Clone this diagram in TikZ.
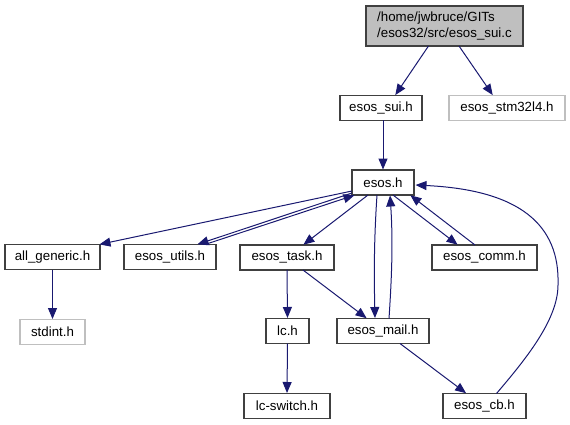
\documentclass[tikz,border=0pt]{standalone}
\usepackage{fontspec}
\setmainfont{Liberation Sans}
\usetikzlibrary{arrows.meta,calc}
\definecolor{edgecol}{RGB}{25,25,112}
\definecolor{boxcol}{RGB}{64,64,64}
\definecolor{greyb}{RGB}{191,191,191}
\begin{document}
\begin{tikzpicture}[x=1pt,y=-1pt,
  every node/.style={font=\fontsize{13.3}{15.5}\selectfont, inner sep=0pt, outer sep=0pt},
  filebox/.style={draw=boxcol, line width=1.1pt, fill=white, minimum height=25pt},
  extbox/.style={draw=greyb, line width=1.1pt, fill=white, minimum height=25pt},
  dep/.style={draw=edgecol, line width=1pt, -{Triangle[length=11pt,width=9pt]}, shorten >=0.5pt},
]
\useasboundingbox (0,0) rectangle (570,425);
% nodes
\node[filebox, fill={rgb,255:red,191;green,191;blue,191}, minimum width=157pt, minimum height=40pt, align=left] (suic) at (444.5,26) {/home/jwbruce/GITs\\/esos32/src/esos\_sui.c};
\node[filebox, minimum width=82pt] (suih) at (381,108) {esos\_sui.h};
\node[extbox, minimum width=116pt] (stm) at (507,108) {esos\_stm32l4.h};
\node[filebox, minimum width=62pt] (esos) at (383,182.5) {esos.h};
\node[filebox, minimum width=95pt] (allgen) at (52.5,257) {all\_generic.h};
\node[filebox, minimum width=92pt] (utils) at (170,257) {esos\_utils.h};
\node[filebox, minimum width=94pt] (task) at (287,257.5) {esos\_task.h};
\node[filebox, minimum width=105pt] (comm) at (484.5,257.5) {esos\_comm.h};
\node[extbox, minimum width=65pt] (stdint) at (52.5,332) {stdint.h};
\node[filebox, minimum width=43pt] (lc) at (287.5,331) {lc.h};
\node[filebox, minimum width=92pt] (mail) at (383,331) {esos\_mail.h};
\node[filebox, minimum width=86pt] (lcsw) at (287,406) {lc-switch.h};
\node[filebox, minimum width=83pt] (cb) at (484.5,406) {esos\_cb.h};
% edges
\draw[dep] ($(suic.south)+(-16,0)$) -- ($(suih.north)+(14,0)$);
\draw[dep] ($(suic.south)+(14.5,0)$) -- ($(stm.north)+(-14,0)$);
\draw[dep] ($(suih.south)+(2,0)$) -- (esos.north);
\draw[dep] ($(esos.west)+(0,8.5)$) -- ($(allgen.north east)+(-1,0)$);
\draw[dep] ($(esos.west)+(0,10.5)$) -- ($(utils.north)+(27,0)$);
\draw[dep] ($(utils.north)+(35,0)$) -- ($(esos.south west)+(3,0)$);
\draw[dep] ($(esos.south)+(-15,0)$) -- ($(task.north)+(16,0)$);
\draw[dep] ($(esos.south)+(-6,0)$) .. controls ($(esos.south)+(-9,45)$) and ($(mail.north)+(-9,-45)$) .. ($(mail.north)+(-8,0)$);
\draw[dep] ($(mail.north)+(6,0)$) .. controls ($(mail.north)+(9,-45)$) and ($(esos.south)+(10,45)$) .. ($(esos.south)+(7,0)$);
\draw[dep] ($(esos.south)+(10,0)$) -- ($(comm.north)+(-26.5,0)$);
\draw[dep] ($(comm.north)+(-9.5,0)$) -- ($(esos.south)+(27,0)$);
\coordinate (cbmid) at (558,285);
\draw[dep] ($(cb.north)+(12,0)$) .. controls (525,360) and (558,320) .. (cbmid) .. controls (560,225) and (520,190) .. ($(esos.east)+(1,2.5)$);
\draw[dep] (allgen.south) -- (stdint.north);
\draw[dep] (task.south) -- (lc.north);
\draw[dep] ($(task.south)+(16,0)$) -- ($(mail.north)+(-16,0)$);
\draw[dep] (lc.south) -- (lcsw.north);
\draw[dep] ($(mail.south)+(17,0)$) -- ($(cb.north)+(-18,0)$);
\end{tikzpicture}
\end{document}
